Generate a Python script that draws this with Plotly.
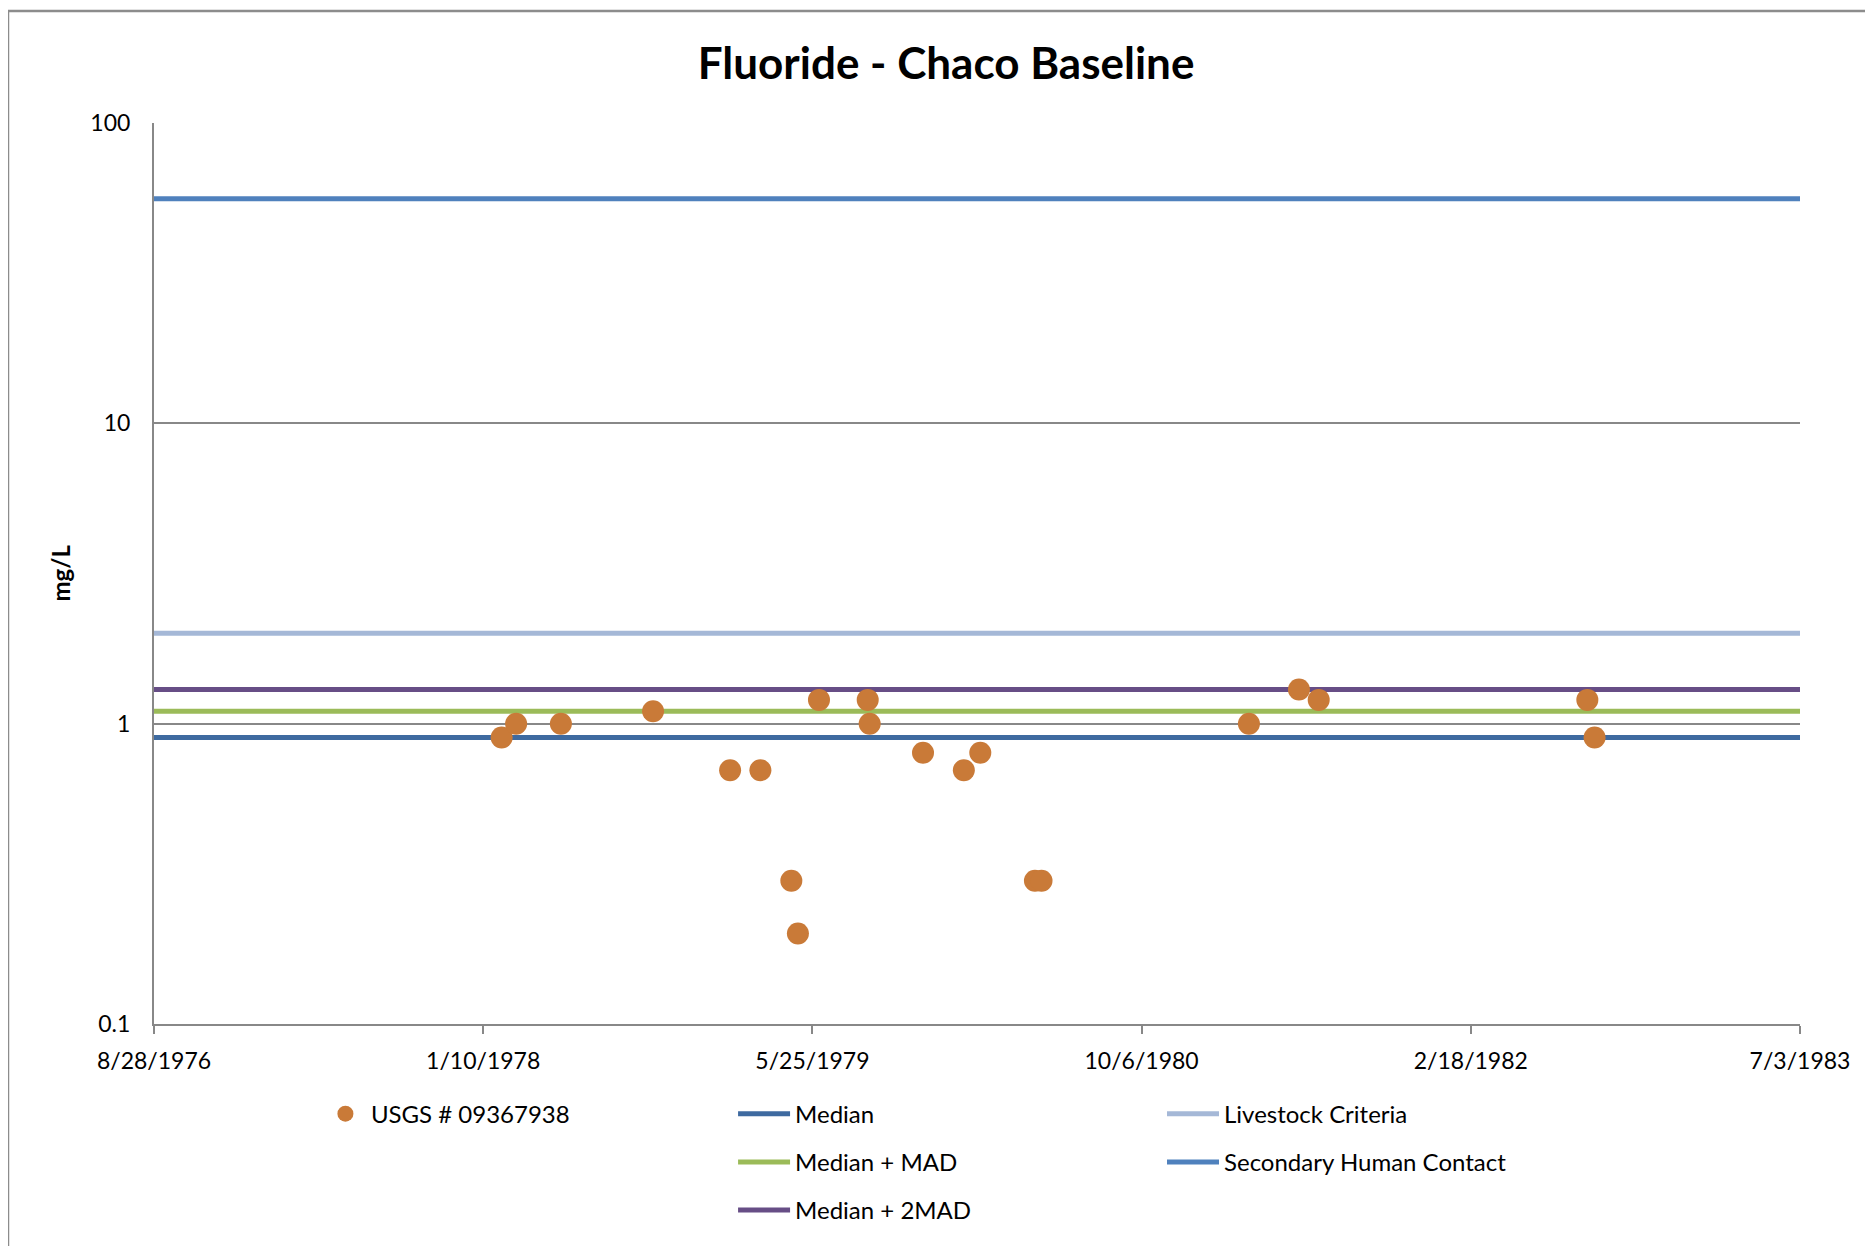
import pandas as pd
import plotly.graph_objects as go

# Sample dates and fluoride results (mg/L) for USGS 09367938
sample_dates = [
    "1978-02-07", "1978-03-01", "1978-05-08", "1978-09-25", "1979-01-20",
    "1979-03-07", "1979-04-23", "1979-05-03", "1979-06-04", "1979-08-17",
    "1979-08-20", "1979-11-09", "1980-01-10", "1980-02-04", "1980-04-27",
    "1980-05-07", "1981-03-18", "1981-06-02", "1981-07-02", "1982-08-14",
    "1982-08-25",
]
fluoride = [
    0.9, 1.0, 1.0, 1.1, 0.7,
    0.7, 0.3, 0.2, 1.2, 1.2,
    1.0, 0.8, 0.7, 0.8, 0.3,
    0.3, 1.0, 1.3, 1.2, 1.2,
    0.9,
]

# Reference levels (mg/L)
median = 0.9
median_mad = 1.1
median_2mad = 1.3
livestock = 2.0
secondary_contact = 56

# X axis: every 500 days from 8/28/1976
tick_dates = ["1976-08-28", "1978-01-10", "1979-05-25", "1980-10-06", "1982-02-18", "1983-07-03"]
tick_text = ["8/28/1976", "1/10/1978", "5/25/1979", "10/6/1980", "2/18/1982", "7/3/1983"]
line_ends = [tick_dates[0], tick_dates[-1]]

font = "Lato, 'Noto Sans', sans-serif"

fig = go.Figure()

# horizontal criteria lines
levels = [
    ("Median", median, "#3E6AA0", "legend2"),
    ("Median + MAD", median_mad, "#9BBB59", "legend2"),
    ("Median + 2MAD", median_2mad, "#674E86", "legend2"),
    ("Livestock Criteria", livestock, "#A5B8D7", "legend3"),
    ("Secondary Human Contact", secondary_contact, "#4F81BD", "legend3"),
]
for name, val, color, leg in levels:
    fig.add_trace(go.Scatter(
        x=line_ends, y=[val, val], mode="lines", name=name,
        line=dict(color=color, width=5), legend=leg, legendgroup=name,
    ))

fig.add_trace(go.Scatter(
    x=pd.to_datetime(sample_dates), y=fluoride, mode="markers",
    name="USGS # 09367938", marker=dict(color="#C97A38", size=22),
    legend="legend",
))

leg_font = dict(family=font, size=24, color="black")
fig.update_layout(
    # page body adds an 8px margin; the overflow past the window is simply cut off
    width=1865, height=1238,
    paper_bgcolor="white", plot_bgcolor="white",
    margin=dict(l=146, r=73, t=115, b=222, autoexpand=False),
    title=dict(text="<b>Fluoride - Chaco Baseline</b>", x=0.503, xanchor="center",
               y=0.955, yanchor="middle", font=dict(family=font, size=44, color="black")),
    font=dict(family=font, size=23, color="black"),
    legend=dict(x=0.1008, y=-0.075, xanchor="left", yanchor="top", font=leg_font,
                itemwidth=41, bgcolor="rgba(0,0,0,0)"),
    legend2=dict(x=0.3518, y=-0.075, xanchor="left", yanchor="top", font=leg_font,
                 itemwidth=52, tracegroupgap=14, traceorder="grouped", bgcolor="rgba(0,0,0,0)"),
    legend3=dict(x=0.6124, y=-0.075, xanchor="left", yanchor="top", font=leg_font,
                 itemwidth=52, tracegroupgap=14, traceorder="grouped", bgcolor="rgba(0,0,0,0)"),
    xaxis=dict(
        type="date", range=[tick_dates[0], tick_dates[-1]],
        tickvals=tick_dates, ticktext=tick_text,
        showline=True, linecolor="#888888", linewidth=2,
        ticks="outside", ticklen=8, tickcolor="#888888", tickwidth=1.5,
        ticklabelstandoff=7, showgrid=False, zeroline=False,
    ),
    yaxis=dict(
        type="log", range=[-1, 2],
        tickvals=[0.1, 1, 10, 100], ticktext=["0.1", "1", "10", "100"],
        showline=True, linecolor="#888888", linewidth=2,
        showgrid=True, gridcolor="#888888", gridwidth=1.5,
        ticks="", ticklabelstandoff=17, zeroline=False,
    ),
    showlegend=True,
)

# y axis title
fig.add_annotation(text="<b>mg/L</b>", xref="paper", yref="paper", x=-0.0571, y=0.5,
                   xanchor="center", yanchor="middle", textangle=-90, showarrow=False,
                   font=dict(family=font, size=24, color="black"))

# outer chart frame (cropped at right and bottom)
fig.add_shape(type="rect", xref="paper", yref="paper", x0=-0.0887, y0=-0.6, x1=1.2, y1=1.1243,
              line=dict(color="#8C8C8C", width=2.5), layer="below")

fig.write_html("out.html")
